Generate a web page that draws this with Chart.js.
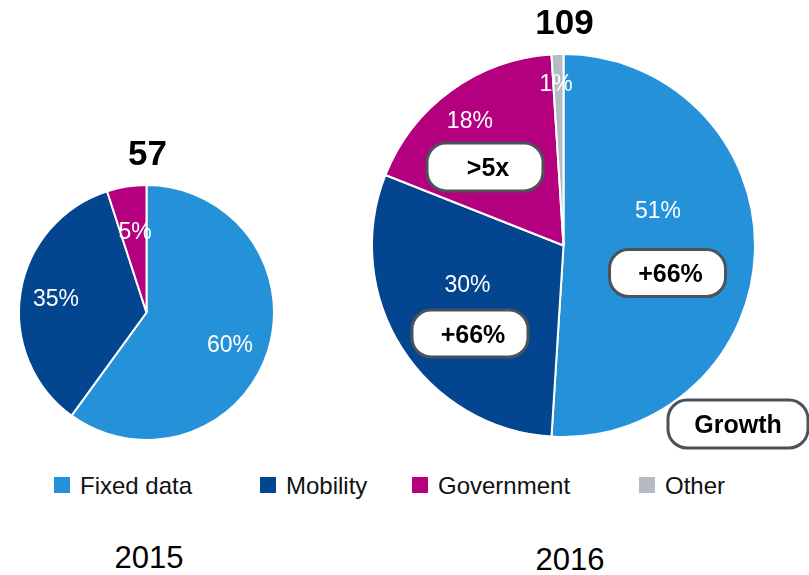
<!DOCTYPE html>
<html>
<head>
<meta charset="utf-8">
<script src="https://cdn.jsdelivr.net/npm/chart.js@4"></script>
<style>
  html,body{margin:0;padding:0;background:#fff;}
  body{width:809px;height:575px;position:relative;overflow:hidden;font-family:"Liberation Sans",Arial,sans-serif;}
  canvas{position:absolute;}
  .lg-sq{position:absolute;width:16px;height:16px;}
  .lg-tx{position:absolute;font-size:24px;line-height:24px;color:#111;white-space:nowrap;transform:translateY(-50%);}
  .yr{position:absolute;font-size:31px;line-height:31px;color:#000;transform:translate(-50%,-50%);white-space:nowrap;}
</style>
</head>
<body>
<canvas id="c2015" width="300" height="330" style="left:0;top:130px;"></canvas>
<canvas id="c2016" width="449" height="460" style="left:360px;top:0;"></canvas>
<div id="legend"></div>
<div id="years"></div>
<script>
// ---- data ----
const categories = ['Fixed data', 'Mobility', 'Government', 'Other'];
const values2015 = [60, 35, 5, 0];
const values2016 = [51, 30, 18, 1];
const totals = [57, 109];
const years = ['2015', '2016'];
const growth2016 = ['+66%', '+66%', '>5x', null];
const growthHeader = 'Growth';

// ---- styles ----
const colors = ['#2591D9', '#03468F', '#B4007F', '#B5BBC3'];
const FONT = '"Liberation Sans", Arial, sans-serif';
// label placement: angle (deg clockwise from top) & fraction of radius
const labelPlace2015 = [[110.7, 0.70], [279.4, 0.72], [352.1, 0.65], [0, 0]];
const labelPlace2016 = [[69.4, 0.527], [248.1, 0.54], [323.4, 0.82], [357.4, 0.85]];
// badges: offsets from pie centre (px) and size
const badgePlace2016 = [[104, 27.5, 116, 47], [-93.5, 88, 116, 47], [-78.5, -78.5, 116, 48], null];
const headerBadge = [174.5, 178.5, 140, 48];
const legendX = [54, 260, 412, 639];

function roundRect(ctx, x, y, w, h, r) {
  ctx.beginPath();
  ctx.moveTo(x + r, y);
  ctx.lineTo(x + w - r, y);
  ctx.arcTo(x + w, y, x + w, y + r, r);
  ctx.lineTo(x + w, y + h - r);
  ctx.arcTo(x + w, y + h, x + w - r, y + h, r);
  ctx.lineTo(x + r, y + h);
  ctx.arcTo(x, y + h, x, y + h - r, r);
  ctx.lineTo(x, y + r);
  ctx.arcTo(x, y, x + r, y, r);
  ctx.closePath();
}
function badge(ctx, cx, cy, w, h, text, dx) {
  ctx.save();
  roundRect(ctx, cx - w / 2, cy - h / 2, w, h, 19);
  ctx.fillStyle = '#fff';
  ctx.fill();
  ctx.lineWidth = 3;
  ctx.strokeStyle = '#4A525C';
  ctx.stroke();
  ctx.fillStyle = '#000';
  ctx.font = 'bold 25px ' + FONT;
  ctx.textAlign = 'center';
  ctx.textBaseline = 'alphabetic';
  ctx.fillText(text, cx + (dx || 0), cy + 9);
  ctx.restore();
}

function overlay(values, total, labelPlace, badges, header) {
  return {
    id: 'overlay',
    afterDatasetsDraw(chart) {
      const ctx = chart.ctx;
      const meta = chart.getDatasetMeta(0);
      const arc0 = meta.data[0];
      const cx = arc0.x, cy = arc0.y, R = arc0.outerRadius;
      ctx.save();
      // percent labels
      ctx.fillStyle = '#fff';
      ctx.font = '23px ' + FONT;
      ctx.textAlign = 'center';
      ctx.textBaseline = 'alphabetic';
      values.forEach((v, i) => {
        if (!v) return;
        const [a, f] = labelPlace[i];
        const rad = a * Math.PI / 180;
        const x = cx + Math.sin(rad) * R * f;
        const y = cy - Math.cos(rad) * R * f;
        ctx.fillText(v + '%', x, y + 8.2);
      });
      // total above
      ctx.fillStyle = '#000';
      ctx.font = 'bold 35px ' + FONT;
      ctx.fillText(String(total), cx + 1, cy - R - 20);
      ctx.restore();
      if (badges) {
        badges.forEach((b, i) => {
          if (!b || !growth2016[i]) return;
          badge(ctx, cx + b[0], cy + b[1], b[2], b[3], growth2016[i], 3);
        });
      }
      if (header) {
        badge(ctx, cx + header[0], cy + header[1], header[2], header[3], growthHeader, 0);
      }
    }
  };
}

function makePie(id, values, padding, plugin) {
  return new Chart(document.getElementById(id), {
    type: 'pie',
    data: {
      labels: categories,
      datasets: [{
        data: values,
        backgroundColor: colors,
        borderColor: '#ffffff',
        borderWidth: 2,
        hoverOffset: 0
      }]
    },
    options: {
      responsive: false,
      animation: false,
      devicePixelRatio: 1,
      layout: { padding: padding },
      events: [],
      plugins: { legend: { display: false }, tooltip: { enabled: false }, title: { display: false } }
    },
    plugins: [plugin]
  });
}

makePie('c2015', values2015, { left: 18, top: 54, right: 25, bottom: 19 },
  overlay(values2015, totals[0], labelPlace2015, null, null));
makePie('c2016', values2016, { left: 11, top: 53, right: 53, bottom: 22 },
  overlay(values2016, totals[1], labelPlace2016, badgePlace2016, headerBadge));

// legend (HTML)
const lg = document.getElementById('legend');
categories.forEach((c, i) => {
  const sq = document.createElement('div');
  sq.className = 'lg-sq';
  sq.style.left = legendX[i] + 'px';
  sq.style.top = '477px';
  sq.style.background = colors[i];
  lg.appendChild(sq);
  const tx = document.createElement('div');
  tx.className = 'lg-tx';
  tx.style.left = (legendX[i] + 26) + 'px';
  tx.style.top = '486px';
  tx.textContent = c;
  lg.appendChild(tx);
});
// year labels
const yrPos = [[149, 557], [570, 559]];
const yd = document.getElementById('years');
years.forEach((y, i) => {
  const d = document.createElement('div');
  d.className = 'yr';
  d.style.left = yrPos[i][0] + 'px';
  d.style.top = yrPos[i][1] + 'px';
  d.textContent = y;
  yd.appendChild(d);
});
</script>
</body>
</html>
